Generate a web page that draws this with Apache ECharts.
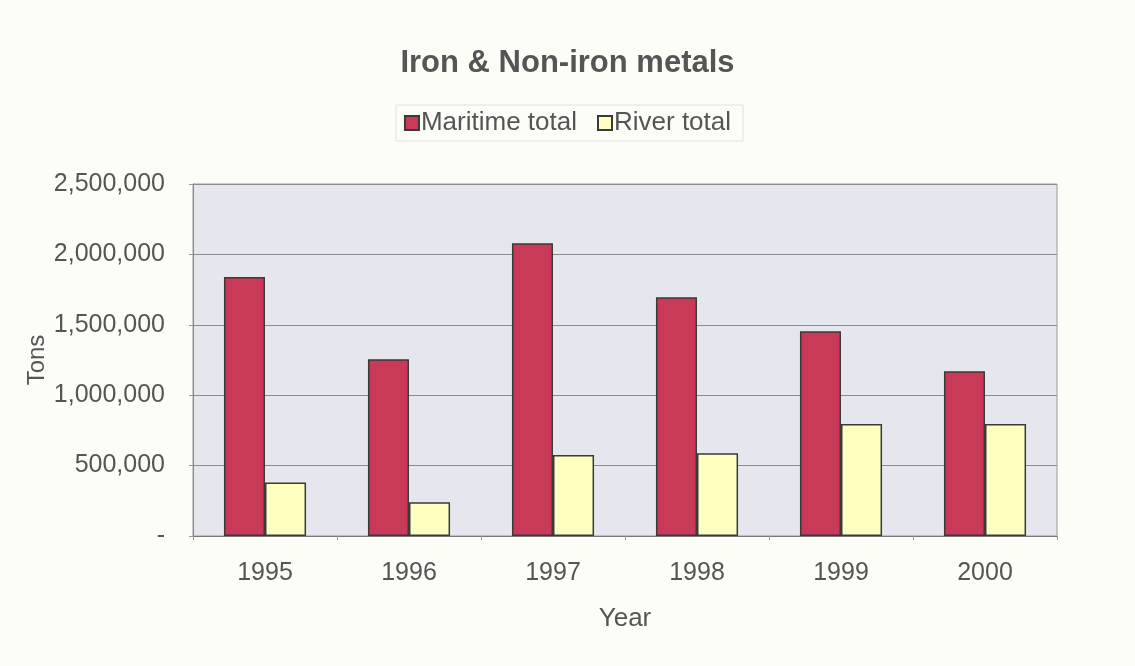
<!DOCTYPE html>
<html>
<head>
<meta charset="utf-8">
<script src="https://cdn.jsdelivr.net/npm/echarts@6/dist/echarts.min.js"></script>
<style>
html,body{margin:0;padding:0;background:#fdfdf8;}
#chart{width:1135px;height:666px;}
</style>
</head>
<body>
<div id="chart"></div>
<script>
const categories = ['1995', '1996', '1997', '1998', '1999', '2000'];
const maritimeTotal = [1840000, 1255000, 2080000, 1695000, 1455000, 1170000];
const riverTotal = [380000, 240000, 575000, 588000, 795000, 795000];
const seriesNames = ['Maritime total', 'River total'];
const titleText = 'Iron & Non-iron metals';
const yAxisName = 'Tons';
const xAxisName = 'Year';

const chart = echarts.init(document.getElementById('chart'));
const font = 'Liberation Sans, Arial, sans-serif';
chart.setOption({
  backgroundColor: '#fdfdf8',
  animation: false,
  title: {
    text: titleText,
    left: 'center',
    top: 43,
    textStyle: { fontFamily: font, fontSize: 31, fontWeight: 'bold', color: '#555' }
  },
  legend: {
    data: seriesNames,
    left: 'center',
    top: 105,
    itemWidth: 14,
    itemHeight: 14,
    itemGap: 20,
    padding: [5, 12, 5, 8],
    borderColor: '#e0e0e0',
    borderWidth: 1,
    icon: 'rect',
    textStyle: { fontFamily: font, fontSize: 26, color: '#555', padding: [0, 0, 0, -3] }
  },
  grid: {
    left: 193, right: 78, top: 184, bottom: 130,
    show: true,
    backgroundColor: '#e5e6ee',
    borderColor: '#9a9a9a',
    borderWidth: 1
  },
  xAxis: {
    type: 'category',
    data: categories,
    name: xAxisName,
    nameLocation: 'middle',
    nameGap: 70,
    nameMoveOverlap: false,
    nameTextStyle: { fontFamily: font, fontSize: 26, color: '#555' },
    axisLine: { lineStyle: { color: '#777' } },
    axisTick: { show: true, length: 4, lineStyle: { color: '#999' } },
    axisLabel: { fontFamily: font, fontSize: 25, color: '#555', margin: 25 }
  },
  yAxis: {
    type: 'value',
    min: 0, max: 2500000, interval: 500000,
    name: yAxisName,
    nameLocation: 'middle',
    nameGap: 144,
    nameMoveOverlap: false,
    nameTextStyle: { fontFamily: font, fontSize: 24, color: '#555' },
    axisLine: { show: true, lineStyle: { color: '#888' } },
    axisTick: { show: true, length: 4, lineStyle: { color: '#999' } },
    splitLine: { lineStyle: { color: '#8c8c8c', width: 1 } },
    axisLabel: {
      fontFamily: font, fontSize: 25, color: '#555', margin: 28,
      formatter: v => v === 0 ? '-' : v.toLocaleString('en-US')
    }
  },
  series: [
    {
      name: seriesNames[0], type: 'bar', data: maritimeTotal,
      barGap: '0%', barCategoryGap: '43%',
      itemStyle: { color: '#c93a58', borderColor: '#3a3a3a', borderWidth: 1.5 }
    },
    {
      name: seriesNames[1], type: 'bar', data: riverTotal,
      itemStyle: { color: '#ffffc0', borderColor: '#3a3a3a', borderWidth: 1.5 }
    }
  ]
});
</script>
</body>
</html>
